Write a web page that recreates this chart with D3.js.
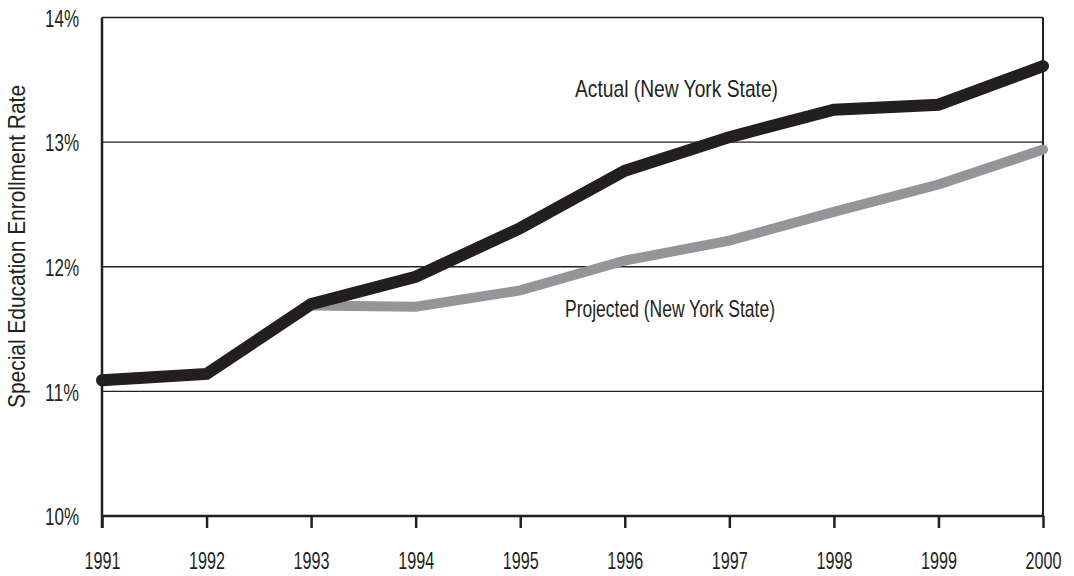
<!DOCTYPE html>
<html><head><meta charset="utf-8">
<script src="https://cdn.jsdelivr.net/npm/d3@7"></script>
<style>body{margin:0;background:#fff}svg{display:block}text{font-family:"Liberation Sans",Arial,sans-serif;fill:#231f20}</style>
</head><body><svg id="c" width="1074" height="576"></svg>
<script>
const years = [1991,1992,1993,1994,1995,1996,1997,1998,1999,2000];
const actual = [11.09,11.14,11.70,11.92,12.31,12.77,13.04,13.26,13.30,13.61];
const projectedYears = [1993,1994,1995,1996,1997,1998,1999,2000];
const projected = [11.69,11.68,11.81,12.05,12.21,12.44,12.66,12.94];
const yTicks = [10,11,12,13,14];
const yTitle = "Special Education Enrollment Rate";
const actualLabel = "Actual (New York State)";
const projectedLabel = "Projected (New York State)";

const svg = d3.select("#c");
const L=102, R=1043, T=17.5, B=516;
const FS = 24;
const x = d3.scaleLinear().domain([1991,2000]).range([L,R]);
const y = d3.scaleLinear().domain([10,14]).range([B,T]);

// gridlines
svg.append("g").selectAll("line").data(yTicks.filter(d=>d>10)).join("line")
  .attr("x1",L).attr("x2",R).attr("y1",d=>y(d)).attr("y2",d=>y(d))
  .attr("stroke","#231f20").attr("stroke-width",1.4);
// right border
svg.append("line").attr("x1",R).attr("x2",R).attr("y1",T).attr("y2",B)
  .attr("stroke","#231f20").attr("stroke-width",2);

// x axis
const xAxis = d3.axisBottom(x).tickValues(years).tickFormat(d3.format("d")).tickSize(12);
const gx = svg.append("g").attr("transform",`translate(0,${B})`).call(xAxis)
  .attr("font-size",FS).attr("font-family",'"Liberation Sans",Arial,sans-serif');
gx.select(".domain").attr("stroke","#231f20").attr("stroke-width",2.5).attr("d",`M${L},0H${R}`);
gx.selectAll(".tick line").attr("stroke","#231f20").attr("stroke-width",2.5);
gx.selectAll(".tick text").attr("font-size",FS).attr("fill","#231f20")
  .attr("y",53).attr("dy",null)
  .attr("textLength",36).attr("lengthAdjust","spacingAndGlyphs");

// y axis
const yAxis = d3.axisLeft(y).tickValues(yTicks).tickFormat(d=>d+"%").tickSize(0).tickPadding(23);
const gy = svg.append("g").attr("transform",`translate(${L},0)`).call(yAxis)
  .attr("font-size",FS).attr("font-family",'"Liberation Sans",Arial,sans-serif');
gy.select(".domain").attr("stroke","#231f20").attr("stroke-width",2.5).attr("d",`M0,${T}V${B+12}`);
gy.selectAll(".tick text").attr("font-size",FS).attr("fill","#231f20")
  .attr("dy","0.36em")
  .attr("textLength",34).attr("lengthAdjust","spacingAndGlyphs");

// lines
const line = d3.line().x(d=>x(d[0])).y(d=>y(d[1]));
svg.append("path").datum(projectedYears.map((yr,i)=>[yr,projected[i]]))
  .attr("d",line).attr("fill","none").attr("stroke","#939598").attr("stroke-width",10)
  .attr("stroke-linecap","round").attr("stroke-linejoin","miter");
svg.append("path").datum(years.map((yr,i)=>[yr,actual[i]]))
  .attr("d",line).attr("fill","none").attr("stroke","#231f20").attr("stroke-width",12)
  .attr("stroke-linecap","round").attr("stroke-linejoin","miter");

// labels
svg.append("text").attr("x",575).attr("y",97).attr("font-size",FS)
  .attr("textLength",203).attr("lengthAdjust","spacingAndGlyphs").text(actualLabel);
svg.append("text").attr("x",565).attr("y",317).attr("font-size",FS)
  .attr("textLength",210).attr("lengthAdjust","spacingAndGlyphs").text(projectedLabel);
svg.append("text").attr("transform","translate(25,408) rotate(-90)").attr("font-size",FS)
  .attr("textLength",323).attr("lengthAdjust","spacingAndGlyphs").text(yTitle);
</script></body></html>
